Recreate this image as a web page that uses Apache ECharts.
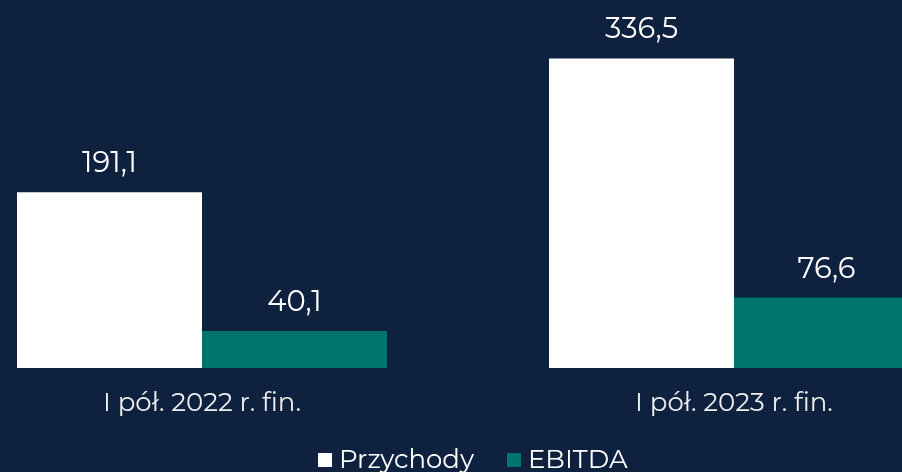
<!DOCTYPE html>
<html><head><meta charset="utf-8">
<script src="https://cdn.jsdelivr.net/npm/echarts@6/dist/echarts.min.js"></script>
<style>html,body{margin:0;padding:0;background:#0e2240;}#c{width:902px;height:472px;}</style>
</head><body><div id="c"></div>
<script>
const categories = ['I pół. 2022 r. fin.', 'I pół. 2023 r. fin.'];
const przychody = [191.1, 336.5];
const ebitda = [40.1, 76.6];
const seriesNames = ['Przychody', 'EBITDA'];

const font = 'Montserrat, "Open Sans", "Noto Sans", sans-serif';
const fmt = p => String(p.value).replace('.', ',');
const chart = echarts.init(document.getElementById('c'));
chart.setOption({
  backgroundColor: '#0e2240',
  animation: false,
  grid: { left: -64, width: 1064, top: 0, bottom: 104, containLabel: false, outerBoundsMode: 'none' },
  legend: {
    data: seriesNames, left: 313, top: 442, icon: 'rect', itemWidth: 14, itemHeight: 14, itemGap: 33,
    textStyle: { color: '#ffffff', fontSize: 26, fontFamily: font, padding: [0, 0, 0, 2] }
  },
  xAxis: {
    type: 'category', data: categories,
    axisLine: { show: false }, axisTick: { show: false },
    axisLabel: { color: '#eeeeee', fontSize: 26, fontFamily: font, margin: 22 }
  },
  yAxis: { type: 'value', min: 0, max: 400, show: false, splitLine: { show: false } },
  series: [
    { name: seriesNames[0], type: 'bar', data: przychody, barWidth: 185, barGap: '0%',
      itemStyle: { color: '#ffffff' },
      label: { show: true, position: 'top', distance: 14, color: '#ffffff', fontSize: 29, fontFamily: font, formatter: fmt } },
    { name: seriesNames[1], type: 'bar', data: ebitda, barWidth: 185,
      itemStyle: { color: '#00756e' },
      label: { show: true, position: 'top', distance: 14, color: '#ffffff', fontSize: 29, fontFamily: font, formatter: fmt } }
  ]
});
</script></body></html>
